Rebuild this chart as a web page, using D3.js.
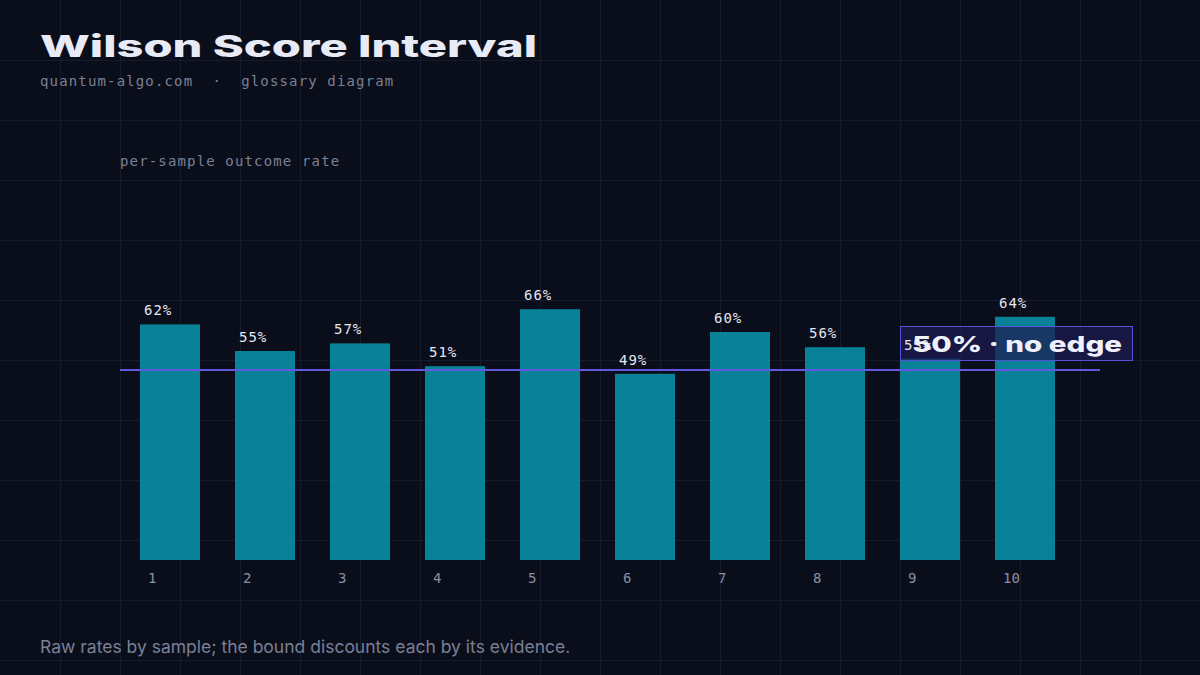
<!DOCTYPE html>
<html>
<head>
<meta charset="utf-8">
<script src="https://cdn.jsdelivr.net/npm/d3@7"></script>
<style>
  html, body { margin: 0; padding: 0; background: #0a0e1b; }
  svg { display: block; }
</style>
</head>
<body>
<svg id="chart" width="1200" height="675"></svg>
<script>
// data
const samples = ['1', '2', '3', '4', '5', '6', '7', '8', '9', '10'];
const rates = [0.62, 0.55, 0.57, 0.51, 0.66, 0.49, 0.60, 0.56, 0.53, 0.64];
const breakEven = 0.5;
const breakEvenLabel = '50% · no edge';

const width = 1200;
const height = 675;
const mono = '"DejaVu Sans Mono", "Liberation Mono", monospace';

const svg = d3.select('#chart');

svg.append('rect')
  .attr('width', width)
  .attr('height', height)
  .attr('fill', '#0a0e1b');

// background grid
const grid = svg.append('g').attr('stroke', '#161b2b').attr('stroke-width', 1);
d3.range(60, width, 60).forEach(x => {
  grid.append('line').attr('x1', x + 0.5).attr('x2', x + 0.5).attr('y1', 0).attr('y2', height);
});
d3.range(60, height, 60).forEach(y => {
  grid.append('line').attr('y1', y + 0.5).attr('y2', y + 0.5).attr('x1', 0).attr('x2', width);
});

// title block
svg.append('text')
  .attr('x', 40)
  .attr('y', 57)
  .attr('textLength', 497)
  .attr('lengthAdjust', 'spacingAndGlyphs')
  .style('font-family', 'Inter, "Noto Sans", sans-serif')
  .style('font-weight', 800)
  .style('font-size', '30px')
  .attr('fill', '#e8eaf6')
  .text('Wilson Score Interval');

svg.append('text')
  .attr('x', 40)
  .attr('y', 86)
  .style('font-family', mono)
  .style('font-size', '14px')
  .style('letter-spacing', '1.15px')
  .attr('fill', '#7b8095')
  .attr('xml:space', 'preserve')
  .text('quantum-algo.com  ·  glossary diagram');

svg.append('text')
  .attr('x', 120)
  .attr('y', 166)
  .style('font-family', mono)
  .style('font-size', '14px')
  .style('letter-spacing', '1.15px')
  .attr('fill', '#7b8095')
  .text('per-sample outcome rate');

// scales
const x = d3.scaleBand()
  .domain(samples)
  .range([140, 1055])
  .paddingInner(35 / 95)
  .paddingOuter(0);

const y = d3.scaleLinear()
  .domain([0, 1])
  .range([560, 180]);

const data = samples.map((s, i) => ({ s, v: rates[i] }));

// bars
svg.append('g')
  .selectAll('rect')
  .data(data)
  .enter()
  .append('rect')
  .attr('x', d => x(d.s))
  .attr('y', d => y(d.v))
  .attr('width', x.bandwidth())
  .attr('height', d => y(0) - y(d.v))
  .attr('fill', '#0a899e')
  .attr('fill-opacity', 0.94);

// x axis: labels only
const xAxis = d3.axisBottom(x).tickSize(0).tickPadding(0);
const axisG = svg.append('g')
  .attr('transform', `translate(0, ${y(0)})`)
  .call(xAxis);
axisG.select('.domain').remove();
axisG.selectAll('.tick text')
  .attr('x', -x.bandwidth() / 2 + 8)
  .attr('y', 23)
  .attr('dy', 0)
  .attr('text-anchor', 'start')
  .style('font-family', mono)
  .style('font-size', '14px')
  .attr('fill', '#8a8fa4');

// break-even reference line
svg.append('line')
  .attr('x1', 120)
  .attr('x2', 1100)
  .attr('y1', y(breakEven))
  .attr('y2', y(breakEven))
  .attr('stroke', '#6157e0')
  .attr('stroke-width', 2);

// annotation box (text goes on top of the value labels)
svg.append('rect')
  .attr('x', 900.5)
  .attr('y', 326.5)
  .attr('width', 232)
  .attr('height', 34)
  .attr('fill', '#1f1a52')
  .attr('fill-opacity', 0.72)
  .attr('stroke', '#5a50d8')
  .attr('stroke-width', 1);

// value labels
svg.append('g')
  .selectAll('text')
  .data(data)
  .enter()
  .append('text')
  .attr('x', d => x(d.s) + 4)
  .attr('y', d => y(d.v) - 9)
  .style('font-family', mono)
  .style('font-size', '14px')
  .style('letter-spacing', '1px')
  .attr('fill', '#e4e7f2')
  .text(d => d3.format('.0%')(d.v));

svg.append('text')
  .attr('x', 912)
  .attr('y', 352)
  .attr('textLength', 210)
  .attr('lengthAdjust', 'spacingAndGlyphs')
  .style('font-family', 'Inter, "Noto Sans", sans-serif')
  .style('font-weight', 800)
  .style('font-size', '22px')
  .attr('fill', '#eef0fb')
  .text(breakEvenLabel);

// caption
svg.append('text')
  .attr('x', 40)
  .attr('y', 653)
  .style('font-family', 'Inter, "Noto Sans", sans-serif')
  .style('font-size', '17.5px')
  .attr('fill', '#7b8095')
  .text('Raw rates by sample; the bound discounts each by its evidence.');
</script>
</body>
</html>
